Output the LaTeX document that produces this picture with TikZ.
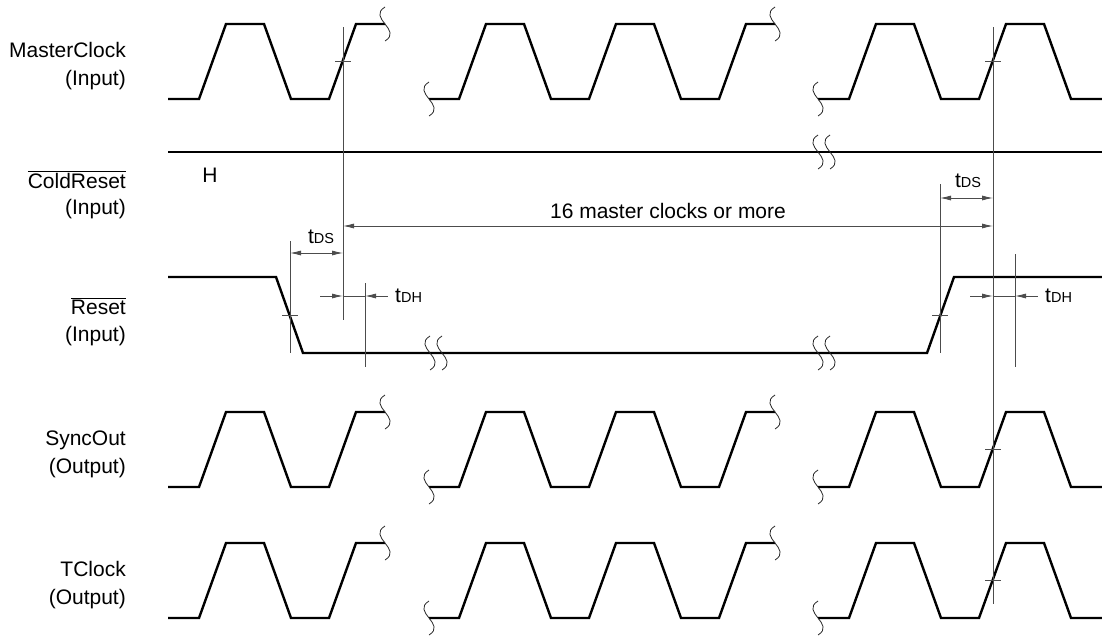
\documentclass[tikz,border=0pt]{standalone}
\usepackage{fontspec}
\setmainfont{Liberation Sans}
\usepackage{tikz}
\usetikzlibrary{arrows.meta,calc}

\newcommand{\tsub}[1]{t{\fontsize{14.5}{14.5}\selectfont #1}}
\newcommand{\brkmark}[2]{\draw[brk] (#1,#2-17) .. controls (#1-18,#2-6) and (#1+18,#2+6) .. (#1,#2+17);}

\begin{document}
\begin{tikzpicture}[x=1pt, y=-1pt, >={Latex[length=11pt,width=5pt]},
	wave/.style={line width=2.4pt},
	guide/.style={line width=0.8pt, black!70},
	brk/.style={line width=0.8pt, black!85},
	lbl/.style={anchor=base east, inner sep=0pt, font=\fontsize{21}{25}\selectfont},
	txt/.style={inner sep=0pt, font=\fontsize{21}{25}\selectfont}]

\useasboundingbox (0,0) rectangle (1102,635);

\node[lbl] (mclk) at (126,57) {MasterClock};
\node[lbl] (mclkin) at (126,85) {(Input)};
\node[lbl] (crst) at (126,188) {$\overline{\mbox{ColdReset}}$};
\node[lbl] (crstin) at (126,214) {(Input)};
\node[lbl] (rst) at (126,314) {$\overline{\mbox{Reset}}$};
\node[lbl] (rstin) at (126,341) {(Input)};
\node[lbl] (sync) at (126,445) {SyncOut};
\node[lbl] (syncout) at (126,473) {(Output)};
\node[lbl] (tclk) at (126,576) {TClock};
\node[lbl] (tclkout) at (126,604) {(Output)};

\foreach \hi/\lo in {24/99, 412/487, 543/618}
{
	\draw[wave] (168,\lo) -- (199,\lo) -- (226,\hi) -- (264,\hi) -- (291,\lo) -- (329,\lo) -- (356,\hi) -- (385,\hi);
	\draw[wave] (429,\lo) -- (459,\lo) -- (486,\hi) -- (524,\hi) -- (551,\lo) -- (589,\lo) -- (616,\hi) -- (654,\hi) -- (681,\lo) -- (719,\lo) -- (746,\hi) -- (775,\hi);
	\draw[wave] (818,\lo) -- (849,\lo) -- (876,\hi) -- (914,\hi) -- (941,\lo) -- (979,\lo) -- (1006,\hi) -- (1044,\hi) -- (1071,\lo) -- (1102,\lo);
	\brkmark{385}{\hi}
	\brkmark{429}{\lo}
	\brkmark{775}{\hi}
	\brkmark{818}{\lo}
}

\draw[wave] (168,152) -- (1102,152);
\brkmark{818}{152}
\brkmark{830}{152}
\node[txt] (hlev) at (210,175) {H};

\draw[wave] (168,277) -- (276,277) -- (303,353) -- (927,353) -- (954,277) -- (1102,277);
\foreach \x in {430,442,818,830}
{
	\brkmark{\x}{353}
}

\foreach \n/\x/\ya/\yb in {ga/343/27/320, gb/993/27/604, gc/290/241/353, gd/365/283/367, ge/940/184/353, gf/1015/254/367}
{
	\coordinate (\n1) at (\x,\ya);
	\coordinate (\n2) at (\x,\yb);
	\draw[guide] (\n1) -- (\n2);
}

\foreach \x/\y in {343/61.5, 993/61.5, 290/315, 940/315, 993/449.5, 993/580.5}
{
	\draw[guide] (\x-8,\y) -- (\x+8,\y);
}

\coordinate (c16a) at (343,226);
\coordinate (c16b) at (993,226);
\draw[guide,<->] (c16a) -- (c16b);
\node[txt] (n16) at (668,211) {16 master clocks or more};

\coordinate (dsa) at (290,253);
\coordinate (dsb) at (343,253);
\draw[guide,<->] (dsa) -- (dsb);
\node[txt] (tdsl) at (321,237) {\tsub{DS}};

\coordinate (dsc) at (940,198);
\coordinate (dsd) at (993,198);
\draw[guide,<->] (dsc) -- (dsd);
\node[txt] (tdsr) at (968,181) {\tsub{DS}};

\coordinate (dha) at (320,296);
\coordinate (dhb) at (343,296);
\coordinate (dhc) at (365,296);
\coordinate (dhd) at (388,296);
\draw[guide,->] (dha) -- (dhb);
\draw[guide] (dhb) -- (dhc);
\draw[guide,<-] (dhc) -- (dhd);
\node[txt, anchor=west] (tdhl) at (395,296) {\tsub{DH}};

\coordinate (dhe) at (970,296);
\coordinate (dhf) at (993,296);
\coordinate (dhg) at (1015,296);
\coordinate (dhh) at (1038,296);
\draw[guide,->] (dhe) -- (dhf);
\draw[guide] (dhf) -- (dhg);
\draw[guide,<-] (dhg) -- (dhh);
\node[txt, anchor=west] (tdhr) at (1045,296) {\tsub{DH}};

\end{tikzpicture}
\end{document}
